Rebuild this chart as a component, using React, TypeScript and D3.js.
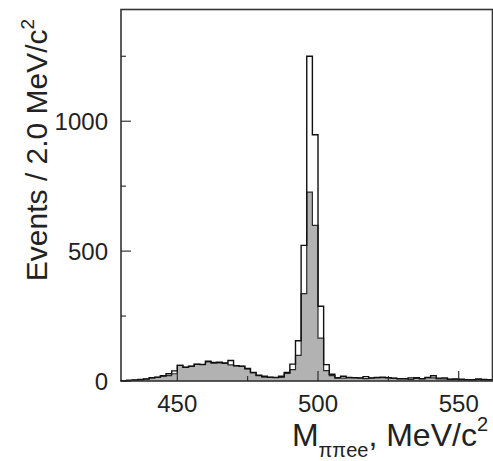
import * as d3 from "d3";

// M(pi pi e e) invariant mass, 2 MeV bins from 430 to 562
const binStart = 430;
const binWidth = 2;
const allEvents = [
  1, 3, 4, 6, 8, 13, 15, 20, 28, 39,
  60, 53, 57, 65, 64, 76, 71, 72, 69, 79,
  59, 57, 48, 33, 22, 18, 15, 14, 18, 33,
  65, 155, 522, 1250, 948, 288, 63, 26, 13, 18,
  14, 13, 12, 17, 12, 14, 15, 13, 11, 9,
  9, 12, 13, 9, 14, 20, 11, 12, 7, 8,
  7, 5, 5, 8, 6, 5,
];
const selectedEvents = [
  1, 2, 3, 5, 7, 11, 14, 19, 21, 28,
  60, 53, 56, 64, 63, 74, 69, 70, 68, 62,
  58, 56, 47, 32, 21, 15, 14, 13, 14, 29,
  44, 99, 336, 727, 599, 165, 40, 21, 11, 11,
  12, 12, 11, 9, 11, 12, 13, 12, 10, 8,
  8, 6, 10, 8, 12, 12, 8, 8, 6, 6,
  5, 5, 4, 5, 4, 4,
];
const xTicks = [450, 500, 550];
const xMinorTicks = [475, 525];
const yTicks = [0, 500, 1000];
const yMinorTicks = [250, 750, 1250];

const W = 493;
const H = 461;
const font = "'Liberation Sans', Arial, Helvetica, sans-serif";

export default function App() {
  const x = d3.scaleLinear().domain([430, 562]).range([121, 492.5]);
  const y = d3.scaleLinear().domain([0, 1430]).range([381, 9.5]);

  // step outline of a histogram, closed down to the baseline
  const stepPath = (vals: number[]) => {
    const p = d3.path();
    p.moveTo(x(binStart), y(0));
    vals.forEach((v, i) => {
      const a = binStart + i * binWidth;
      p.lineTo(x(a), y(v));
      p.lineTo(x(a + binWidth), y(v));
    });
    p.lineTo(x(binStart + vals.length * binWidth), y(0));
    return p.toString();
  };

  const [x0, x1] = x.range();
  const [y0, y1] = y.range();

  return (
    <svg
      width={W}
      height={H}
      style={{ position: "absolute", left: 0, top: 0, background: "#fff" }}
      fontFamily={font}
    >
      <path d={stepPath(selectedEvents)} fill="#b2b2b2" stroke="#2a2a2a" strokeWidth={1.2} />
      <path d={stepPath(allEvents)} fill="none" stroke="#111" strokeWidth={1.4} />

      {/* frame */}
      <rect x={x0} y={y1} width={x1 - x0} height={y0 - y1} fill="none" stroke="#333" strokeWidth={1.6} />

      {/* ticks */}
      {xTicks.map((t) => (
        <g key={"x" + t}>
          <line x1={x(t)} x2={x(t)} y1={y0} y2={y0 - 10} stroke="#222" strokeWidth={1.1} />
          <text x={x(t)} y={412} fontSize={24} textAnchor="middle" fill="#222">
            {t}
          </text>
        </g>
      ))}
      {xMinorTicks.map((t) => (
        <line key={"xm" + t} x1={x(t)} x2={x(t)} y1={y0} y2={y0 - 5} stroke="#222" strokeWidth={1.1} />
      ))}
      {yTicks.map((t) => (
        <g key={"y" + t}>
          <line x1={x0} x2={x0 + 10} y1={y(t)} y2={y(t)} stroke="#222" strokeWidth={1.1} />
          <text x={108} y={y(t)} dy="0.36em" fontSize={24} textAnchor="end" fill="#222">
            {t}
          </text>
        </g>
      ))}
      {yMinorTicks.map((t) => (
        <line key={"ym" + t} x1={x0} x2={x0 + 5} y1={y(t)} y2={y(t)} stroke="#222" strokeWidth={1.1} />
      ))}

      {/* axis titles */}
      <text transform="translate(47,150) rotate(-90)" fontSize={30} textAnchor="middle" fill="#222">
        Events / 2.0 MeV/c
        <tspan fontSize={19} dy={-13}>2</tspan>
      </text>
      <text x={488} y={446} fontSize={32} textAnchor="end" fill="#222">
        M
        <tspan fontSize={20} dy={11}>ππee</tspan>
        <tspan dy={-11}>, MeV/c</tspan>
        <tspan fontSize={20} dy={-15}>2</tspan>
      </text>
    </svg>
  );
}
